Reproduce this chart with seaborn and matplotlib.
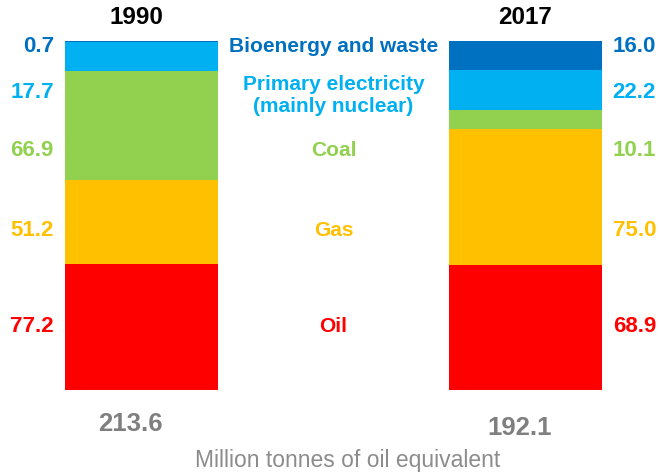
import matplotlib
matplotlib.use("Agg")
import matplotlib.pyplot as plt
import seaborn as sns
import pandas as pd
import numpy as np

years = ["1990", "2017"]
fuels = ["Oil", "Gas", "Coal", "Primary electricity\n(mainly nuclear)", "Bioenergy and waste"]
values_1990 = [77.2, 51.2, 66.9, 17.7, 0.7]
values_2017 = [68.9, 75.0, 10.1, 22.2, 16.0]
totals = [213.6, 192.1]
colors = ["#FF0000", "#FFC000", "#92D050", "#00B0F0", "#0070C0"]

sns.set_theme(style="white")
plt.rcParams['font.family'] = ['Liberation Sans', 'DejaVu Sans']

# percentage-stacked: cumulative shares per year
rows = []
for y, vals, tot in zip(years, [values_1990, values_2017], totals):
    cum = np.cumsum(vals) / tot * 100
    for f, c in zip(fuels, cum):
        rows.append({"year": y, "fuel": f, "cum": c})
df = pd.DataFrame(rows)

fig = plt.figure(figsize=(6.59, 4.74), dpi=100)
ax = fig.add_axes([0, (474 - 390) / 474, 1, 349 / 474])

# draw from top layer down so lower layers cover upper ones
for f, col in reversed(list(zip(fuels, colors))):
    sub = df[df.fuel == f]
    sns.barplot(data=sub, x="year", y="cum", order=years, color=col,
                width=0.398, saturation=1, ax=ax, linewidth=0)

ax.set_xlim(-0.3685, 1.3477)
ax.set_ylim(0, 100)
ax.axis("off")

def py(p):
    return (390 - p) / 3.49

row_y = [py(327), py(230), py(150), py(92), py(47)]
label_y = [py(327), py(230), py(150), py(95), py(47)]

# left / right value labels
for i, (v1, v2, col) in enumerate(zip(values_1990, values_2017, colors)):
    ax.text(-0.228, row_y[i], f"{v1:.1f}", color=col, fontsize=16, fontweight="bold",
            ha="right", va="center")
    ax.text(1.227, row_y[i], f"{v2:.1f}", color=col, fontsize=16, fontweight="bold",
            ha="left", va="center")
    ax.text(0.5, label_y[i], fuels[i], color=col, fontsize=15, fontweight="bold",
            ha="center", va="center", linespacing=1.2)

# year titles
for i, y in enumerate(years):
    ax.text(i - 0.012 * (i == 0), py(18), y, color="black", fontsize=17.5, fontweight="bold",
            ha="center", va="center")

# totals
ax.text(-0.03, py(424), f"{totals[0]:.1f}", color="#7F7F7F", fontsize=18.5, fontweight="bold",
        ha="center", va="center")
ax.text(0.986, py(428), f"{totals[1]:.1f}", color="#7F7F7F", fontsize=18.5, fontweight="bold",
        ha="center", va="center")

ax.text(0.538, py(467.5), "Million tonnes of oil equivalent", color="#8C8C8C", fontsize=16.5,
        ha="center", va="baseline")

fig.savefig("out.png", dpi=100)
